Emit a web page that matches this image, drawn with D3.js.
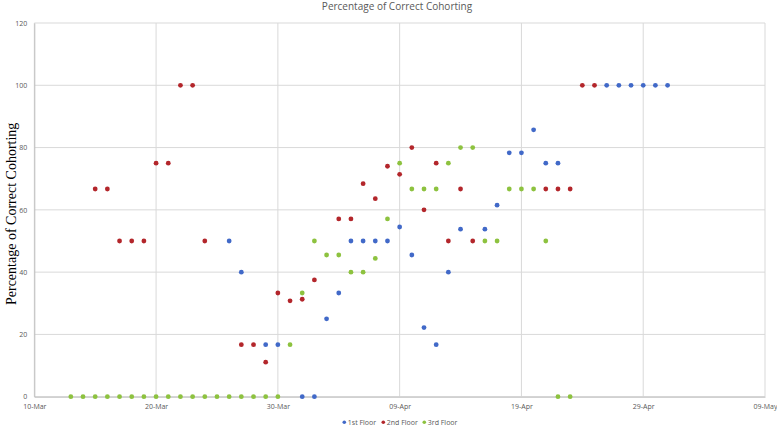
<!DOCTYPE html>
<html><head><meta charset="utf-8">
<script src="https://cdn.jsdelivr.net/npm/d3@7"></script>
<style>body{margin:0;background:#fff}svg{display:block}</style>
</head><body>
<svg id="c" width="777" height="427"></svg>
<script>
const title = "Percentage of Correct Cohorting";
const yLabel = "Percentage of Correct Cohorting";
const seriesNames = ["1st Floor", "2nd Floor", "3rd Floor"];
const seriesColors = ["#4169C8", "#B3262B", "#8DC23F"];
const xTickLabels = ["10-Mar","20-Mar","30-Mar","09-Apr","19-Apr","29-Apr","09-May"];
const yTicks = [0,20,40,60,80,100,120];

const floor1Dates = ["2020-03-26","2020-03-27","2020-03-29","2020-03-30","2020-04-01","2020-04-02","2020-04-03","2020-04-04","2020-04-05","2020-04-06","2020-04-07","2020-04-08","2020-04-09","2020-04-10","2020-04-11","2020-04-12","2020-04-13","2020-04-14","2020-04-16","2020-04-17","2020-04-18","2020-04-19","2020-04-20","2020-04-21","2020-04-22","2020-04-26","2020-04-27","2020-04-28","2020-04-29","2020-04-30","2020-05-01"];
const floor1Values = [50,40,16.7,16.7,0,0,25,33.3,50,50,50,50,54.5,45.5,22.2,16.7,40,53.8,53.8,61.5,78.3,78.3,85.7,75,75,100,100,100,100,100,100];

const floor2Dates = ["2020-03-15","2020-03-16","2020-03-17","2020-03-18","2020-03-19","2020-03-20","2020-03-21","2020-03-22","2020-03-23","2020-03-24","2020-03-27","2020-03-28","2020-03-29","2020-03-30","2020-03-31","2020-04-01","2020-04-02","2020-04-04","2020-04-05","2020-04-06","2020-04-07","2020-04-08","2020-04-09","2020-04-10","2020-04-11","2020-04-12","2020-04-13","2020-04-14","2020-04-15","2020-04-21","2020-04-22","2020-04-23","2020-04-24","2020-04-25"];
const floor2Values = [66.7,66.7,50,50,50,75,75,100,100,50,16.7,16.7,11.1,33.3,30.8,31.3,37.5,57.1,57.1,68.4,63.6,74,71.4,80,60,75,50,66.7,50,66.7,66.7,66.7,100,100];

const floor3Dates = ["2020-03-13","2020-03-14","2020-03-15","2020-03-16","2020-03-17","2020-03-18","2020-03-19","2020-03-20","2020-03-21","2020-03-22","2020-03-23","2020-03-24","2020-03-25","2020-03-26","2020-03-27","2020-03-28","2020-03-29","2020-03-30","2020-03-31","2020-04-01","2020-04-02","2020-04-03","2020-04-04","2020-04-05","2020-04-06","2020-04-07","2020-04-08","2020-04-09","2020-04-10","2020-04-11","2020-04-12","2020-04-13","2020-04-14","2020-04-15","2020-04-16","2020-04-17","2020-04-18","2020-04-19","2020-04-20","2020-04-21","2020-04-22","2020-04-23"];
const floor3Values = [0,0,0,0,0,0,0,0,0,0,0,0,0,0,0,0,0,0,16.7,33.3,50,45.5,45.5,40,40,44.4,57.1,75,66.7,66.7,66.7,75,80,80,50,50,66.7,66.7,66.7,50,0,0];

const parse = d3.timeParse("%Y-%m-%d");
const series = [
  {name: seriesNames[0], color: seriesColors[0], pts: floor1Dates.map((d,i)=>({x:parse(d), y:floor1Values[i]}))},
  {name: seriesNames[1], color: seriesColors[1], pts: floor2Dates.map((d,i)=>({x:parse(d), y:floor2Values[i]}))},
  {name: seriesNames[2], color: seriesColors[2], pts: floor3Dates.map((d,i)=>({x:parse(d), y:floor3Values[i]}))}
];

const svg = d3.select("#c");
const L = 34.3, R = 765, T = 23, B = 396.7;
const x = d3.scaleTime().domain([parse("2020-03-10"), parse("2020-05-09")]).range([L, R]);
const y = d3.scaleLinear().domain([0,120]).range([B, T]);
const xTickDates = d3.range(7).map(i => d3.timeDay.offset(parse("2020-03-10"), i*10));

// grid
svg.append("g").selectAll("line.h").data(yTicks).join("line")
  .attr("x1", L).attr("x2", R).attr("y1", d=>y(d)).attr("y2", d=>y(d))
  .attr("stroke", "#d9d9d9").attr("stroke-width", 1);
svg.append("g").selectAll("line.v").data(xTickDates).join("line")
  .attr("x1", d=>x(d)).attr("x2", d=>x(d)).attr("y1", T).attr("y2", B)
  .attr("stroke", "#d9d9d9").attr("stroke-width", 1);

// axes
const xAxis = d3.axisBottom(x).tickValues(xTickDates).tickFormat((d,i)=>xTickLabels[i]).tickSize(0).tickPadding(7);
const gx = svg.append("g").attr("transform", `translate(0,${B})`).call(xAxis);
gx.select(".domain").attr("stroke", "#bfbfbf");
gx.selectAll("text").attr("fill", "#595959").style("font-family", "'Open Sans', sans-serif").style("font-size", "7px");

const yAxis = d3.axisLeft(y).tickValues(yTicks).tickSize(0).tickPadding(7);
const gy = svg.append("g").attr("transform", `translate(${L},0)`).call(yAxis);
gy.select(".domain").attr("stroke", "#bfbfbf");
gy.selectAll("text").attr("fill", "#595959").style("font-family", "'Open Sans', sans-serif").style("font-size", "7px");

// points
series.forEach(s => {
  svg.append("g").selectAll("circle").data(s.pts).join("circle")
    .attr("cx", d=>x(d.x)).attr("cy", d=>y(d.y)).attr("r", 2.4).attr("fill", s.color);
});

// title
svg.append("text").attr("x", 397).attr("y", 10).attr("text-anchor", "middle")
  .style("font-family", "'Open Sans', sans-serif").style("font-size", "10px").attr("fill", "#595959").text(title);

// y label
svg.append("text").attr("transform", `translate(16,${(T+B)/2 + 4}) rotate(-90)`).attr("text-anchor", "middle")
  .style("font-family", "'Liberation Serif', serif").style("font-size", "14px").attr("fill", "#000").text(yLabel);

// legend
const legX = [344.3, 383.3, 424.3];
const lg = svg.append("g");
series.forEach((s,i) => {
  lg.append("circle").attr("cx", legX[i]).attr("cy", 422.3).attr("r", 1.8).attr("fill", s.color);
  lg.append("text").attr("x", legX[i]+3.5).attr("y", 424.8)
    .style("font-family", "'Open Sans', sans-serif").style("font-size", "7px").attr("fill", "#595959").text(s.name);
});
</script>
</body></html>
